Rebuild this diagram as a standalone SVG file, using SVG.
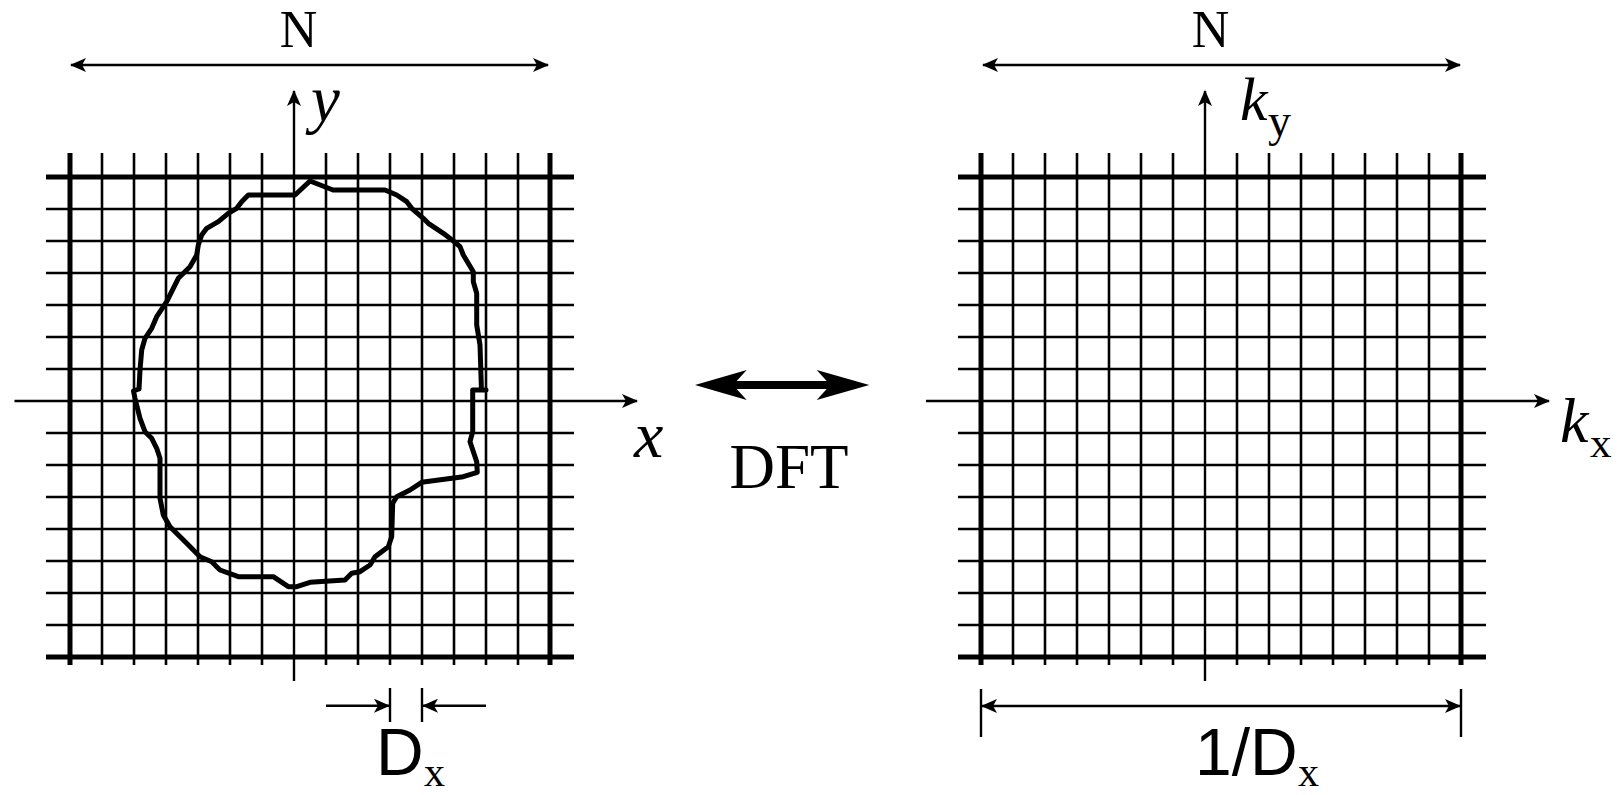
<svg xmlns="http://www.w3.org/2000/svg" width="1619" height="795" viewBox="0 0 1619 795">
<style>
.thin{stroke:#000;stroke-width:2.6;fill:none}
.thick{stroke:#000;stroke-width:5;fill:none}
.ln{stroke:#000;stroke-width:2.4;fill:none}
.blob{stroke:#000;stroke-width:5;fill:none;stroke-linejoin:round;stroke-linecap:round}
text{fill:#000}
</style>
<defs>
<marker id="ah" viewBox="0 0 16 14" refX="15" refY="7" markerWidth="16" markerHeight="14" markerUnits="userSpaceOnUse" orient="auto-start-reverse">
<path d="M0,0 L16,7 L0,14 L4,7 Z" fill="#000"/>
</marker>
</defs>
<rect width="1619" height="795" fill="#fff"/>

<g id="left-grid">
<path class="thin" d="M102,153V665M134,153V665M166,153V665M198,153V665M230,153V665M262,153V665M326,153V665M358,153V665M390,153V665M422,153V665M454,153V665M486,153V665M518,153V665"/>
<path class="thin" d="M46,209H574M46,241H574M46,273H574M46,305H574M46,337H574M46,369H574M46,433H574M46,465H574M46,497H574M46,529H574M46,561H574M46,593H574M46,625H574"/>
<path class="thick" d="M70,153V665M550,153V665M46,177H574M46,657H574"/>
</g>

<g id="right-grid">
<path class="thin" d="M1013,153V665M1045,153V665M1077,153V665M1109,153V665M1141,153V665M1173,153V665M1237,153V665M1269,153V665M1301,153V665M1333,153V665M1365,153V665M1397,153V665M1429,153V665"/>
<path class="thin" d="M958,209H1486M958,241H1486M958,273H1486M958,305H1486M958,337H1486M958,369H1486M958,433H1486M958,465H1486M958,497H1486M958,529H1486M958,561H1486M958,593H1486M958,625H1486"/>
<path class="thick" d="M981,153V665M1461,153V665M958,177H1486M958,657H1486"/>
</g>

<g id="object-outline">
<path class="blob" d="M310,181 L333,190 L385,190 L396.7,195 L406.7,201.7 L411.7,208.3 L423.3,218.3 L428.3,223.3 L443.3,233.3 L455,242.3 L460,246.7 L463.3,255 L473.3,271.7 L473.3,281.7 L476.7,293.3 L476.7,325 L480,345 L481.3,385 L481.3,390 L486,390 L472.7,390 L472.7,431.7 L470,441.7 L476.7,461.7 L477.3,472.3 L463.3,476.7 L421.7,482.3 L410,490 L396.7,496.7 L392.7,503.3 L391.7,536.7 L388.3,546.7 L375,556.7 L370,565 L360,571.7 L351.7,573.3 L345,580 L310,582.3 L296.7,586.7 L288.3,586.7 L273.3,576.7 L238.3,576.7 L220,570 L211.7,561.7 L200,556.7 L186.7,543.3 L170,526.7 L163.3,515 L160,498.3 L160,458.3 L156.7,448.3 L151.7,438.3 L145,431.7 L140,418.3 L135,398.3 L133.5,391 L139,389 L140,370 L141.7,350 L145,338.3 L151.7,328.3 L156.7,316.7 L166.7,301.7 L173.3,288.3 L178.3,278.3 L190,266.7 L196.7,255 L198.3,245 L201.7,235 L206.7,228.3 L218.3,221.7 L228.3,213.3 L236.7,208.3 L241.7,201.7 L248.3,195 L295,195 Z"/>
</g>

<g id="connectors">
<path class="ln" d="M294,681V91" marker-end="url(#ah)"/>
<path class="ln" d="M14.5,401H637" marker-end="url(#ah)"/>
<path class="ln" d="M71,65H548" marker-start="url(#ah)" marker-end="url(#ah)"/>
<path class="ln" d="M326,705.7H389" marker-end="url(#ah)"/>
<path class="ln" d="M486,705.7H423" marker-end="url(#ah)"/>
<path class="ln" d="M390,688V722M422,688V722"/>
<path class="ln" d="M1205,681V91" marker-end="url(#ah)"/>
<path class="ln" d="M926,401H1549" marker-end="url(#ah)"/>
<path class="ln" d="M983,65H1460" marker-start="url(#ah)" marker-end="url(#ah)"/>
<path class="ln" d="M982,706H1460" marker-start="url(#ah)" marker-end="url(#ah)"/>
<path class="ln" d="M981,689V737M1461,689V737"/>
<path id="dft-arrow" d="M695,385 L746.7,370 L736.7,381 L826.7,381 L816.7,370 L869.3,385 L816.7,400 L826.7,389 L736.7,389 L746.7,400 Z" fill="#000"/>
</g>

<g id="labels">
<text font-family="'Liberation Serif', 'Times New Roman', Times, serif" x="298.5" y="46.7" font-size="52" text-anchor="middle">N</text>
<text font-family="'Liberation Serif', 'Times New Roman', Times, serif" x="1210.6" y="46.7" font-size="52" text-anchor="middle">N</text>
<text font-family="'Liberation Serif', 'Times New Roman', Times, serif" x="311" y="121" font-size="65" font-style="italic">y</text>
<text font-family="'Liberation Serif', 'Times New Roman', Times, serif" x="634" y="456.7" font-size="66" font-style="italic">x</text>
<text font-family="'Liberation Serif', 'Times New Roman', Times, serif" x="789" y="488" font-size="63" text-anchor="middle">DFT</text>
<text font-family="'Liberation Serif', 'Times New Roman', Times, serif" x="1240" y="120" font-size="62" font-style="italic">k<tspan font-style="normal" font-size="46" x="1268" y="136">y</tspan></text>
<text font-family="'Liberation Serif', 'Times New Roman', Times, serif" x="1560" y="441.7" font-size="64" font-style="italic">k<tspan font-style="normal" font-size="43" x="1590" y="456.7">x</tspan></text>
<text font-family="'Liberation Sans', Arial, Helvetica, sans-serif" x="376" y="775" font-size="66">D<tspan font-family="'Liberation Serif', 'Times New Roman', Times, serif" font-size="42" x="424" y="786">x</tspan></text>
<text font-family="'Liberation Sans', Arial, Helvetica, sans-serif" x="1195" y="775" font-size="66">1/D<tspan font-family="'Liberation Serif', 'Times New Roman', Times, serif" font-size="42" x="1298" y="786">x</tspan></text>
</g>
</svg>
